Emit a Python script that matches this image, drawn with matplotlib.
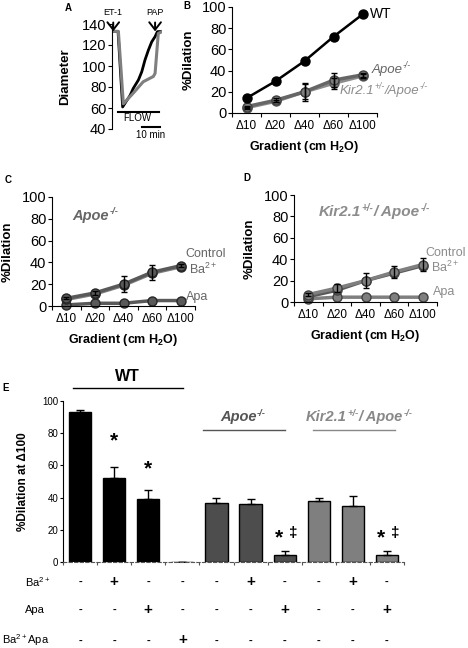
import matplotlib
matplotlib.use('Agg')
import matplotlib.pyplot as plt
import numpy as np

plt.rcParams['font.family'] = ['Liberation Sans', 'DejaVu Sans']
plt.rcParams['mathtext.fontset'] = 'custom'
plt.rcParams['mathtext.rm'] = 'Liberation Sans'
plt.rcParams['mathtext.it'] = 'Liberation Sans:italic'
plt.rcParams['mathtext.bf'] = 'Liberation Sans:bold'

# ---- data ----
# panel A: diameter traces (time in min)
wt_t = [0, 3.4, 6.0, 10.2, 12.0, 14.9, 16.8, 18.6, 20.5, 22.4, 24.3, 25.6, 28.1]
wt_d = [133, 133, 61, 72, 78.7, 86.7, 94.6, 105.7, 115, 123, 128, 132.7, 133]
apoe_t = [0, 3.6, 6.4, 11.9, 17.6, 23.3, 24.3, 25.2, 26.1, 28.1]
apoe_d = [133, 133, 64, 74, 85, 90, 93, 112, 131, 132.7]

gradients = ['Δ10', 'Δ20', 'Δ40', 'Δ60', 'Δ100']

# panel B
b_wt = [14, 30, 49, 72, 93]
b_wt_err = [1, 1, 2, 3, 1]
b_apoe = [6, 12, 20, 31, 36]
b_apoe_err = [1, 2, 8.5, 6.5, 2]
b_kir = [5, 11, 20, 28, 35]
b_kir_err = [1, 1, 7, 5, 2]

# panel C (Apoe-/-)
c_ctrl = [7, 12, 20, 31, 37]
c_ctrl_err = [1, 1.5, 7.5, 7, 1.5]
c_ba = [6, 11, 19, 30, 36]
c_apa = [1, 2.5, 2.5, 5, 5]

# panel D (Kir2.1+/-/Apoe-/-)
d_ctrl = [7, 13, 20, 28, 35]
d_ctrl_err = [1, 4, 7, 5.5, 6]
d_ba = [5, 11, 20, 27, 34]
d_apa = [3, 4.5, 4.5, 4.5, 4.5]

# panel E: %dilation at delta100
e_vals = [93, 52, 39, 0, 36.5, 36, 4.5, 38, 34.5, 4.5]
e_err = [1.7, 7.3, 5.5, 0, 3, 3, 2.5, 1.8, 6.3, 2.5]
e_colors = ['black'] * 4 + ['#4d4d4d'] * 3 + ['#7f7f7f'] * 3
ba_row = ['-', '+', '-', '-', '-', '+', '-', '-', '+', '-']
apa_row = ['-', '-', '+', '-', '-', '-', '+', '-', '-', '+']
baapa_row = ['-', '-', '-', '+', '-', '-', '-', '-', '-', '-']

W, H = 468, 648
fig = plt.figure(figsize=(W / 100, H / 100), dpi=100)

APOE = [('Apoe', False), ('-/-', True)]
KIR = [('Kir2.1', False), ('+/-', True), ('/ Apoe', False), ('-/-', True)]
KIR_B = [('Kir2.1', False), ('+/-', True), ('/Apoe', False), ('-/-', True)]


def px_axes(l, t, r, b):
    return fig.add_axes([l / W, 1 - b / H, (r - l) / W, (b - t) / H])


def rich(ax, x, y, parts, size, color, transform=None, **kw):
    # chain of text pieces, superscripts raised
    first = ax.text(x, y, parts[0][0], fontsize=size, color=color, ha='left', va='center',
                    transform=transform if transform is not None else ax.transData, **kw)
    prev = first
    for txt, sup in parts[1:]:
        prev = ax.annotate(txt, xy=(1, 0), xycoords=(prev, first),
                           xytext=(0.4 if sup else 0, size * 0.42 if sup else 0), textcoords='offset points',
                           fontsize=size * 0.65 if sup else size, color=color, ha='left', va='bottom',
                           annotation_clip=False, **kw)
    return first


def style_line_axes(ax, ylabel_x):
    ax.set_xlim(-0.5, 4.5)
    ax.set_ylim(0, 100)
    ax.spines[['top', 'right']].set_visible(False)
    ax.set_yticks(range(0, 101, 20))
    ax.tick_params(axis='y', labelsize=10.5, length=3, pad=1)
    ax.set_xticks(np.arange(-0.5, 5, 1))
    ax.set_xticklabels([])
    ax.set_xticks(range(5), minor=True)
    ax.set_xticklabels(gradients, minor=True, fontsize=8.5)
    ax.tick_params(axis='x', which='major', length=3)
    ax.tick_params(axis='x', which='minor', length=0, pad=5)
    ax.set_xlabel(r'Gradient (cm H$_\mathbf{2}$O)', fontsize=9, fontweight='bold', labelpad=5)
    ax.set_ylabel('%Dilation', fontsize=9.5, fontweight='bold')
    ax.yaxis.set_label_coords(ylabel_x, 0.5)


x = np.arange(5)

# ---- panel A ----
axA = px_axes(112, 24, 162, 129)
axA.plot(wt_t, wt_d, color='black', lw=2)
axA.plot(apoe_t, apoe_d, color='#7f7f7f', lw=2.2)
axA.set_xlim(0, 28.2)
axA.set_ylim(40, 140)
axA.spines[['top', 'right', 'bottom']].set_visible(False)
axA.set_xticks([])
axA.set_yticks(range(40, 141, 20))
axA.tick_params(axis='y', labelsize=10.5, length=3, pad=1)
axA.set_ylabel('Diameter', fontsize=9.5, fontweight='bold')
axA.yaxis.set_label_coords(-0.82, 0.5)
axA.plot([3.6, 26.7], [56.5, 56.5], color='black', lw=1.5, clip_on=False)
axA.text(14.5, 50.5, 'FLOW', fontsize=7, ha='center', va='center')
axA.plot([16.8, 26.8], [41.5, 41.5], color='black', lw=1.5, clip_on=False)
axA.text(21.8, 34.5, '10 min', fontsize=7, ha='center', va='center', clip_on=False)
for lab, tx in [('ET-1', 0.7), ('PAP', 24.3)]:
    axA.annotate(lab, xy=(tx, 133), xytext=(tx, 151), fontsize=6.5, ha='center', va='center',
                 arrowprops=dict(arrowstyle='->,head_width=0.35,head_length=0.45', lw=1.4,
                                 color='black', shrinkA=2, shrinkB=0, mutation_scale=12),
                 annotation_clip=False)
fig.text(68 / W, 1 - 8 / H, 'A', fontsize=7, fontweight='bold', ha='center', va='center')

# ---- panel B ----
axB = px_axes(232, 7, 377, 113)
axB.plot(x, b_kir, color='#8c8c8c', lw=2.5, marker='o', ms=6.5, mfc='#8c8c8c', mec='#595959', clip_on=False)
axB.plot(x, b_apoe, color='#666666', lw=2.5, marker='o', ms=6.5, mfc='#7f7f7f', mec='#404040', clip_on=False)
axB.plot(x, b_wt, color='black', lw=1.8, marker='o', ms=6.5, mfc='black', mec='black', clip_on=False)
for vals, errs in [(b_wt, b_wt_err), (b_apoe, b_apoe_err), (b_kir, b_kir_err)]:
    axB.errorbar(x, vals, yerr=errs, fmt='none', ecolor='black', elinewidth=1, capsize=2.5, zorder=5)
style_line_axes(axB, -0.26)
axB.text(4.25, 93, 'WT', fontsize=10, va='center')
rich(axB, 4.3, 41, APOE, 9.5, '#666666', fontstyle='italic')
rich(axB, 3.2, 21, KIR_B, 9.5, '#8c8c8c', fontstyle='italic')
fig.text(187 / W, 1 - 6 / H, 'B', fontsize=7, fontweight='bold', ha='center', va='center')

# ---- panel C ----
axC = px_axes(52, 197, 195, 306)
axC.plot(x, c_apa, color='#595959', lw=2.5, marker='o', ms=6.5, mfc='#595959', mec='#262626', clip_on=False)
axC.plot(x, c_ba, color='#7f7f7f', lw=2.5, marker='o', ms=6.5, mfc='#595959', mec='#262626', clip_on=False)
axC.plot(x, c_ctrl, color='#595959', lw=2.5, marker='o', ms=6.5, mfc='#595959', mec='#262626', clip_on=False)
axC.errorbar(x, c_ctrl, yerr=c_ctrl_err, fmt='none', ecolor='black', elinewidth=1, capsize=2.5, zorder=5)
style_line_axes(axC, -0.27)
rich(axC, 0.22, 83, APOE, 10.5, '#666666', fontstyle='italic', fontweight='bold')
axC.text(4.15, 48, 'Control', fontsize=9, color='#666666', va='center')
axC.text(4.3, 34, 'Ba$^{2+}$', fontsize=9, color='#666666', va='center')
axC.text(4.2, 8.5, 'Apa', fontsize=9, color='#666666', va='center')
fig.text(8 / W, 1 - 180 / H, 'C', fontsize=7, fontweight='bold', ha='center', va='center')

# ---- panel D ----
axD = px_axes(294, 195, 437, 302)
axD.plot(x, d_apa, color='#7f7f7f', lw=2.5, marker='o', ms=6.5, mfc='#7f7f7f', mec='#404040', clip_on=False)
axD.plot(x, d_ba, color='#595959', lw=2.5, marker='o', ms=6.5, mfc='#7f7f7f', mec='#404040', clip_on=False)
axD.plot(x, d_ctrl, color='#7f7f7f', lw=2.5, marker='o', ms=6.5, mfc='#7f7f7f', mec='#404040', clip_on=False)
axD.errorbar(x, d_ctrl, yerr=d_ctrl_err, fmt='none', ecolor='black', elinewidth=1, capsize=2.5, zorder=5)
style_line_axes(axD, -0.27)
rich(axD, 0.37, 84, KIR, 11, '#8c8c8c', fontstyle='italic', fontweight='bold')
axD.text(4.1, 46, 'Control', fontsize=9, color='#8c8c8c', va='center')
axD.text(4.3, 32, 'Ba$^{2+}$', fontsize=9, color='#8c8c8c', va='center')
axD.text(4.35, 9, 'Apa', fontsize=9, color='#8c8c8c', va='center')
fig.text(247 / W, 1 - 178 / H, 'D', fontsize=7, fontweight='bold', ha='center', va='center')

# ---- panel E ----
axE = px_axes(63, 401, 404, 562)
xe = np.arange(len(e_vals))
axE.bar(xe, e_vals, width=0.65, color=e_colors, edgecolor='black', linewidth=1)
axE.errorbar(xe, e_vals, yerr=[np.zeros(len(e_err)), e_err], fmt='none', ecolor='black',
             elinewidth=1, capsize=3)
axE.set_xlim(-0.5, len(e_vals) - 0.5)
axE.set_ylim(0, 100)
axE.spines[['top', 'right']].set_visible(False)
axE.spines['bottom'].set_color('#555555')
axE.spines['bottom'].set_linestyle((0, (3, 2)))
axE.set_yticks(range(0, 101, 20))
axE.tick_params(axis='y', labelsize=7, length=2.5, pad=1)
axE.set_xticks(np.arange(-0.5, len(e_vals), 1))
axE.set_xticklabels([])
axE.tick_params(axis='x', length=2.5, color='#555555')
axE.set_ylabel('%Dilation at Δ100', fontsize=8.5, fontweight='bold')
axE.yaxis.set_label_coords(-0.1, 0.5)

for i, yv in [(1, 75), (2, 58)]:
    axE.text(i, yv, '*', fontsize=15, fontweight='bold', ha='center', va='center')
for i in [6, 9]:
    axE.text(i - 0.18, 15, '*', fontsize=15, fontweight='bold', ha='center', va='center')
    axE.text(i + 0.25, 18, '‡', fontsize=11, fontweight='bold', ha='center', va='center')

trans = axE.get_xaxis_transform()
for row, yy in [(ba_row, -0.125), (apa_row, -0.3), (baapa_row, -0.4875)]:
    for i, s in enumerate(row):
        axE.text(i, yy, s, fontsize=11 if s == '+' else 8, fontweight='bold', ha='center', va='center',
                 transform=trans)
axE.text((38 - 63) / 341, -0.125, 'Ba$^{2+}$', fontsize=8, ha='center', va='center', transform=axE.transAxes)
axE.text((35 - 63) / 341, -0.3, 'Apa', fontsize=8, ha='center', va='center', transform=axE.transAxes)
axE.text((26 - 63) / 341, -0.4875, 'Ba$^{2+}$Apa', fontsize=8, ha='center', va='center', transform=axE.transAxes)

# group headers
axE.text(1.4, 1.15, 'WT', fontsize=11.5, fontweight='bold', ha='center', va='center', transform=trans)
axE.plot([-0.21, 3.02], [1.081, 1.081], color='black', lw=1, transform=trans, clip_on=False)
rich(axE, 4.1, 0.9, APOE, 10.5, '#555555', transform=trans, fontstyle='italic', fontweight='bold')
axE.plot([3.6, 6.0], [0.82, 0.82], color='#555555', lw=1, transform=trans, clip_on=False)
rich(axE, 6.63, 0.9, KIR, 10.5, '#888888', transform=trans, fontstyle='italic', fontweight='bold')
axE.plot([6.83, 9.24], [0.82, 0.82], color='#888888', lw=1, transform=trans, clip_on=False)
fig.text(6 / W, 1 - 388 / H, 'E', fontsize=7, fontweight='bold', ha='center', va='center')

fig.savefig('out.png', dpi=100)
